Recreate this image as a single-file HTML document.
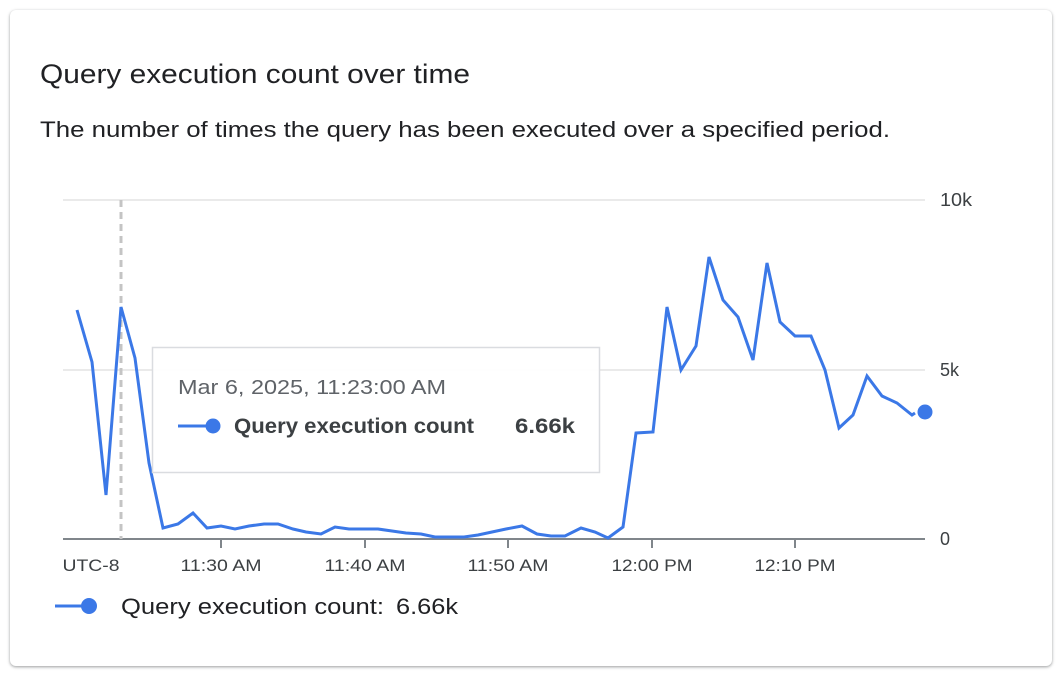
<!DOCTYPE html>
<html><head><meta charset="utf-8"><style>
html,body{margin:0;padding:0;background:#fff;}
body{width:1063px;height:677px;position:relative;overflow:hidden;font-family:"Liberation Sans",Roboto,sans-serif;}
.card{position:absolute;left:10px;top:10px;width:1042px;height:656px;border-radius:6px;background:#fff;box-shadow:0 1px 3px rgba(60,64,67,.35),0 1px 2px rgba(60,64,67,.2);}
</style></head><body>
<div class="card"></div>
<svg width="1063" height="677" style="position:absolute;left:0;top:0" font-family="Liberation Sans, sans-serif">
<text x="40" y="83" font-size="27" fill="#202124" textLength="430" lengthAdjust="spacingAndGlyphs">Query execution count over time</text>
<text x="40" y="137" font-size="22.5" fill="#202124" textLength="850" lengthAdjust="spacingAndGlyphs">The number of times the query has been executed over a specified period.</text>
<line x1="63" y1="200" x2="925" y2="200" stroke="#e3e3e3" stroke-width="1.5"/>
<line x1="63" y1="370" x2="925" y2="370" stroke="#e3e3e3" stroke-width="1.5"/>
<line x1="63" y1="539" x2="925" y2="539" stroke="#80868b" stroke-width="2"/>
<g stroke="#80868b" stroke-width="2"><line x1="221" y1="539" x2="221" y2="548"/><line x1="365" y1="539" x2="365" y2="548"/><line x1="508" y1="539" x2="508" y2="548"/><line x1="652" y1="539" x2="652" y2="548"/><line x1="795" y1="539" x2="795" y2="548"/></g>
<g font-size="18" fill="#3c4043"><text x="940" y="206" textLength="32" lengthAdjust="spacingAndGlyphs">10k</text><text x="940" y="376">5k</text><text x="940" y="545">0</text></g>
<g font-size="17" fill="#3c4043" text-anchor="middle"><text x="91" y="571" textLength="57" lengthAdjust="spacingAndGlyphs">UTC-8</text><text x="221" y="571" textLength="81" lengthAdjust="spacingAndGlyphs">11:30 AM</text><text x="365" y="571" textLength="81" lengthAdjust="spacingAndGlyphs">11:40 AM</text><text x="508" y="571" textLength="81" lengthAdjust="spacingAndGlyphs">11:50 AM</text><text x="652" y="571" textLength="81" lengthAdjust="spacingAndGlyphs">12:00 PM</text><text x="795" y="571" textLength="81" lengthAdjust="spacingAndGlyphs">12:10 PM</text></g>
<line x1="121" y1="200" x2="121" y2="539" stroke="#c4c4c4" stroke-width="3" stroke-dasharray="7,5"/>
<polyline fill="none" stroke="#3b78e7" stroke-width="3" stroke-linejoin="miter" points="77,310 92,362 106,495 121,307 135,358 149,463 163,528 178,524 193,513 207,528 221,526 235,529 249,526 264,524 278,524 293,529 306,532 321,534 335,527 349,529 364,529 378,529 392,531 406,533 421,534 435,537 449,537 464,537 478,535 492,532 506,529 522,526 537,534 551,536 565,536 581,528 595,532 608,538 623,527 636,433 653,432 667,307 681,370 696,346 709,257 723,300 738,317 753,360 767,263 780,322 795,336 811,336 825,370 839,428 853,415 867,376 882,396 897,403 912,415 915,413"/>
<circle cx="925" cy="412" r="7.5" fill="#3b78e7"/>
<rect x="152.5" y="347.5" width="447" height="125" fill="#fff" fill-opacity="0.97" stroke="#dadce0" stroke-width="1.5"/>
<text x="178" y="394" font-size="20.5" fill="#5f6368" textLength="268" lengthAdjust="spacingAndGlyphs">Mar 6, 2025, 11:23:00 AM</text>
<line x1="178" y1="426" x2="206" y2="426" stroke="#3b78e7" stroke-width="3"/>
<circle cx="213" cy="426" r="7.5" fill="#3b78e7"/>
<text x="234" y="433" font-size="21" font-weight="bold" fill="#3c4043" textLength="240" lengthAdjust="spacingAndGlyphs">Query execution count</text>
<text x="515" y="433" font-size="21" font-weight="bold" fill="#3c4043" textLength="60" lengthAdjust="spacingAndGlyphs">6.66k</text>
<line x1="55" y1="606" x2="84" y2="606" stroke="#3b78e7" stroke-width="3"/>
<circle cx="89" cy="606" r="8" fill="#3b78e7"/>
<text x="121" y="614" font-size="22" fill="#202124" textLength="263" lengthAdjust="spacingAndGlyphs">Query execution count:</text>
<text x="396" y="614" font-size="22" fill="#202124" textLength="62" lengthAdjust="spacingAndGlyphs">6.66k</text>
</svg>
</body></html>
